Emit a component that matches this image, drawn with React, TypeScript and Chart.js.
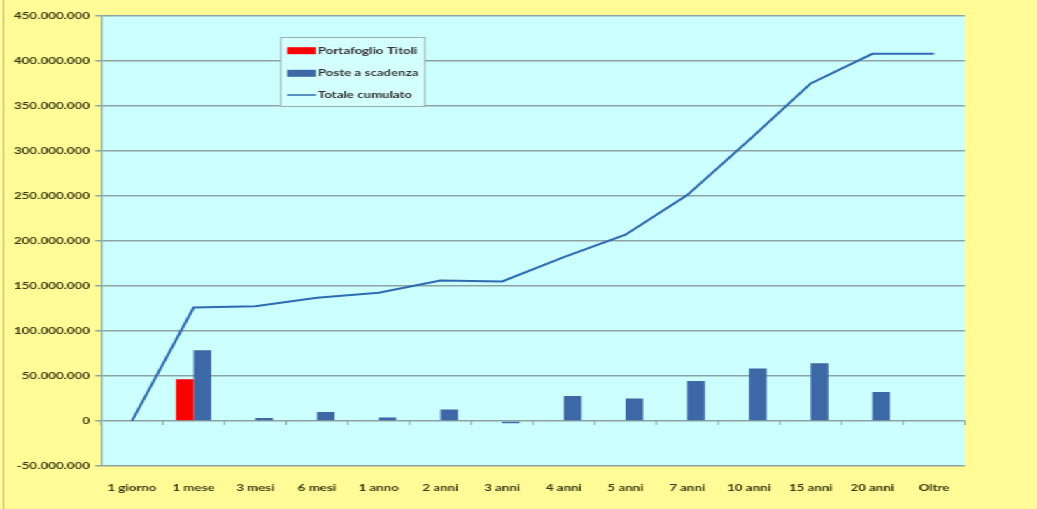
import React, { useEffect, useRef } from "react";
import { Chart, registerables } from "chart.js";

Chart.register(...registerables);

const categories = [
  "1 giorno", "1 mese", "3 mesi", "6 mesi", "1 anno", "2 anni", "3 anni",
  "4 anni", "5 anni", "7 anni", "10 anni", "15 anni", "20 anni", "Oltre",
];

const portafoglioTitoli: (number | null)[] = [
  null, 46500000, null, null, null, null, null, null, null, null, null, null, null, null,
];

const posteScadenza: (number | null)[] = [
  null, 78500000, 3300000, 10000000, 4000000, 12700000, -2500000,
  27800000, 24900000, 44400000, 58200000, 64100000, 32200000, null,
];

const totaleCumulato: number[] = [
  0, 126000000, 127500000, 137000000, 142500000, 156000000, 155000000,
  182000000, 207000000, 251000000, 312000000, 375000000, 408000000, 408000000,
];

const seriesNames = ["Portafoglio Titoli", "Poste a scadenza", "Totale cumulato"];

const Y_MIN = -50000000;
const Y_MAX = 450000000;
const Y_STEP = 50000000;

const STRETCH = 1.3995;
const CW = 741;
const CH = 509;

const PAGE_BG = "#FFFB96";
const PLOT_BG = "#CCFFFF";
const GRID = "#8DA3A3";
const LABEL = "#3A3A12";
const RED = "#FF0000";
const BLUE_BAR = "#3C68A6";
const BLUE_LINE = "#2F6BB0";
const FONT = "Lato, 'Open Sans', sans-serif";

function fmt(v: number): string {
  const s = Math.abs(Math.round(v)).toString().replace(/\B(?=(\d{3})+(?!\d))/g, ".");
  return (v < 0 ? "-" : "") + s;
}

const bgPlugin = {
  id: "bgPlugin",
  beforeDraw(chart: any) {
    const { ctx, chartArea, width, height } = chart;
    ctx.save();
    ctx.fillStyle = PAGE_BG;
    ctx.fillRect(0, 0, width, height);
    ctx.fillStyle = PLOT_BG;
    ctx.fillRect(chartArea.left, chartArea.top, chartArea.right - chartArea.left, chartArea.bottom - chartArea.top);
    ctx.strokeStyle = "#B9B88A";
    ctx.lineWidth = 1;
    ctx.beginPath();
    ctx.moveTo(2.5, 0);
    ctx.lineTo(2.5, height);
    ctx.stroke();
    ctx.restore();
  },
  afterDatasetsDraw(chart: any) {
    const { ctx } = chart;
    const x = chart.scales.x;
    const y = chart.scales.y;
    const y0 = y.getPixelForValue(0);
    ctx.save();
    ctx.strokeStyle = GRID;
    ctx.lineWidth = 1;
    ctx.beginPath();
    for (let i = 0; i <= categories.length; i++) {
      const px = x.getPixelForValue(i - 0.5);
      ctx.moveTo(px, y0);
      ctx.lineTo(px, y0 + 4);
    }
    ctx.stroke();
    ctx.restore();
  },
  afterDraw(chart: any) {
    const { ctx, chartArea } = chart;
    const bx = chartArea.left + 128;
    const by = chartArea.top + 21;
    const bw = 103;
    const bh = 69;
    ctx.save();
    ctx.fillStyle = "#D4FFFF";
    ctx.fillRect(bx, by, bw, bh);
    ctx.strokeStyle = "#9DB0B0";
    ctx.lineWidth = 1;
    ctx.strokeRect(bx + 0.5, by + 0.5, bw, bh);
    const rows = [13.7, 36.3, 58];
    const colors = [RED, BLUE_BAR, BLUE_LINE];
    ctx.font = `bold 9.5px ${FONT}`;
    ctx.textBaseline = "middle";
    ctx.textAlign = "left";
    for (let i = 0; i < 3; i++) {
      const ry = by + rows[i];
      if (i < 2) {
        ctx.fillStyle = colors[i];
        ctx.fillRect(bx + 5, ry - 3.5, 20.5, 7);
      } else {
        ctx.strokeStyle = colors[i];
        ctx.lineWidth = 1.5;
        ctx.beginPath();
        ctx.moveTo(bx + 5, ry);
        ctx.lineTo(bx + 25.5, ry);
        ctx.stroke();
      }
      ctx.fillStyle = "#333333";
      ctx.fillText(seriesNames[i], bx + 27, ry);
    }
    ctx.restore();
  },
};

export default function App() {
  const ref = useRef<HTMLCanvasElement | null>(null);

  useEffect(() => {
    document.body.style.margin = "0";
    document.body.style.background = PAGE_BG;
    const canvas = ref.current;
    if (!canvas) return;
    const chart = new Chart(canvas, {
      type: "bar",
      data: {
        labels: categories,
        datasets: [
          {
            type: "bar",
            label: seriesNames[0],
            data: portafoglioTitoli,
            backgroundColor: RED,
            order: 1,
            barPercentage: 1,
            categoryPercentage: 0.57,
          },
          {
            type: "bar",
            label: seriesNames[1],
            data: posteScadenza,
            backgroundColor: BLUE_BAR,
            order: 1,
            barPercentage: 1,
            categoryPercentage: 0.57,
          },
          {
            type: "line",
            label: seriesNames[2],
            data: totaleCumulato,
            borderColor: BLUE_LINE,
            backgroundColor: BLUE_LINE,
            borderWidth: 2,
            pointRadius: 0,
            tension: 0,
            order: 0,
          } as any,
        ],
      },
      options: {
        responsive: false,
        animation: false,
        devicePixelRatio: 1,
        layout: { padding: { left: 0, right: 51.5, top: 16, bottom: 0 } },
        plugins: {
          legend: { display: false },
          title: { display: false },
          tooltip: { enabled: false },
        },
        scales: {
          x: {
            offset: true,
            grid: { display: false, drawTicks: false },
            border: { display: false },
            ticks: {
              color: LABEL,
              font: { family: FONT, size: 9.5, weight: "bold" },
              padding: 16,
              maxRotation: 0,
              autoSkip: false,
            },
            afterFit(axis: any) {
              axis.height = 43;
            },
          },
          y: {
            min: Y_MIN,
            max: Y_MAX,
            grid: {
              color: GRID,
              lineWidth: 1.5,
              drawTicks: true,
              tickLength: 4,
              tickColor: GRID,
            },
            border: { display: true, color: GRID, width: 1.2 },
            ticks: {
              stepSize: Y_STEP,
              color: LABEL,
              font: { family: FONT, size: 9.5, weight: "bold" },
              padding: 4,
              callback: (v: any) => fmt(Number(v)),
            },
            afterFit(axis: any) {
              axis.width = 72.2;
            },
          },
        },
      },
      plugins: [bgPlugin],
    });
    return () => chart.destroy();
  }, []);

  return (
    <div
      style={{
        position: "fixed",
        left: 0,
        top: 0,
        width: CW,
        height: CH,
        transform: `scaleX(${STRETCH})`,
        transformOrigin: "0 0",
        background: PAGE_BG,
      }}
    >
      <canvas ref={ref} width={CW} height={CH} style={{ display: "block" }} />
    </div>
  );
}
